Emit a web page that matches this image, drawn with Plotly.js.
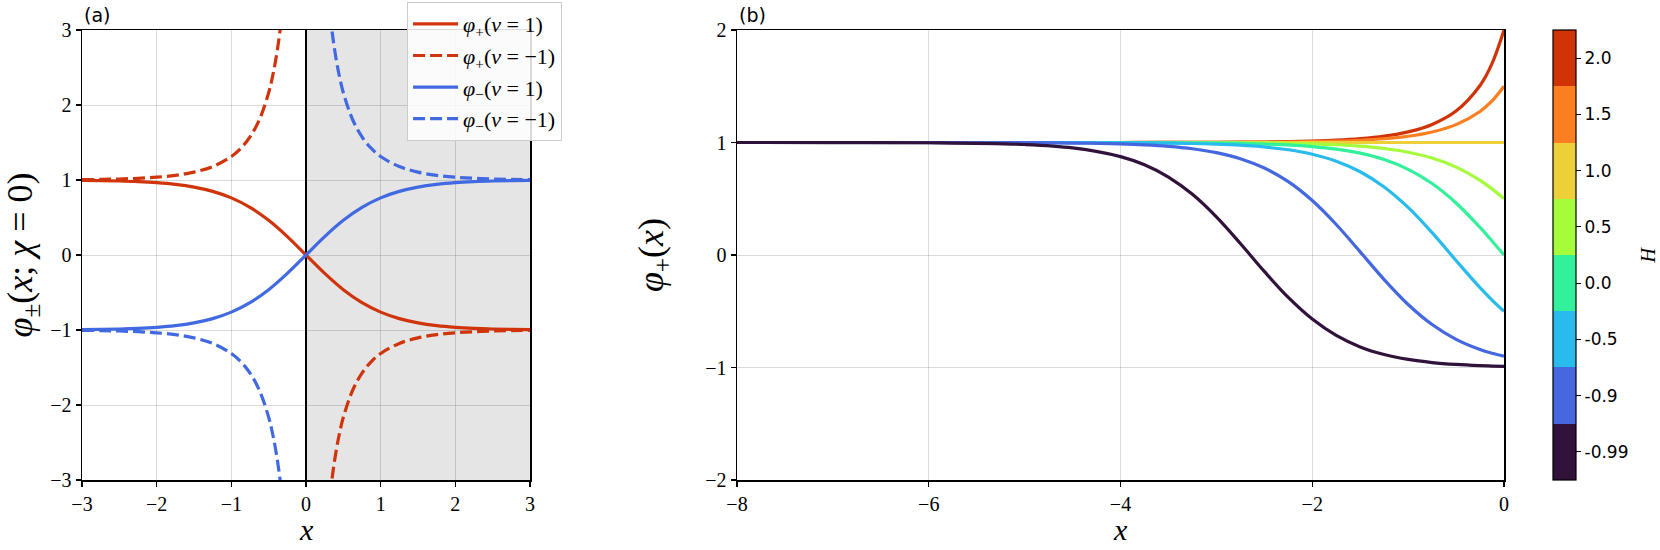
<!DOCTYPE html>
<html>
<head>
<meta charset="utf-8">
<script src="https://cdn.plot.ly/plotly-3.0.1.min.js"></script>
<style>html,body{margin:0;padding:0;background:#fff;}#chart{width:1660px;height:550px;}</style>
</head>
<body>
<div id="chart"></div>
<script>
// ---------- Panel (a) data ----------
const xSolid = [-3,-2.75,-2.5,-2.25,-2,-1.75,-1.5,-1.25,-1,-0.75,-0.5,-0.25,0,0.25,0.5,0.75,1,1.25,1.5,1.75,2,2.25,2.5,2.75,3];
const phiPlusNu1 = [0.9951,0.9919,0.9866,0.9780,0.9640,0.9414,0.9051,0.8483,0.7616,0.6351,0.4621,0.2449,0,-0.2449,-0.4621,-0.6351,-0.7616,-0.8483,-0.9051,-0.9414,-0.9640,-0.9780,-0.9866,-0.9919,-0.9951];
const phiMinusNu1 = [-0.9951,-0.9919,-0.9866,-0.9780,-0.9640,-0.9414,-0.9051,-0.8483,-0.7616,-0.6351,-0.4621,-0.2449,0,0.2449,0.4621,0.6351,0.7616,0.8483,0.9051,0.9414,0.9640,0.9780,0.9866,0.9919,0.9951];
const xDashed = [-3,-2.75,-2.5,-2.25,-2,-1.75,-1.5,-1.25,-1,-0.875,-0.75,-0.625,-0.5,-0.45,-0.4,-0.35,-0.3,null,0.3,0.35,0.4,0.45,0.5,0.625,0.75,0.875,1,1.25,1.5,1.75,2,2.25,2.5,2.75,3];
const phiPlusNuM1 = [1.0050,1.0082,1.0135,1.0225,1.0373,1.0619,1.1048,1.1789,1.3130,1.4207,1.5745,1.8031,2.1640,2.3702,2.6319,2.9729,3.4327,null,-3.4327,-2.9729,-2.6319,-2.3702,-2.1640,-1.8031,-1.5745,-1.4207,-1.3130,-1.1789,-1.1048,-1.0619,-1.0373,-1.0225,-1.0135,-1.0082,-1.0050];
const phiMinusNuM1 = [-1.0050,-1.0082,-1.0135,-1.0225,-1.0373,-1.0619,-1.1048,-1.1789,-1.3130,-1.4207,-1.5745,-1.8031,-2.1640,-2.3702,-2.6319,-2.9729,-3.4327,null,3.4327,2.9729,2.6319,2.3702,2.1640,1.8031,1.5745,1.4207,1.3130,1.1789,1.1048,1.0619,1.0373,1.0225,1.0135,1.0082,1.0050];
const shadedX = [0, 3];
const legendNames = ['<i>φ</i><sub>+</sub>(<i>ν</i> = 1)','<i>φ</i><sub>+</sub>(<i>ν</i> = −1)','<i>φ</i><sub>−</sub>(<i>ν</i> = 1)','<i>φ</i><sub>−</sub>(<i>ν</i> = −1)'];

// ---------- Panel (b) data ----------
const xB = [-8,-7,-6,-5,-4.5,-4,-3.75,-3.5,-3.25,-3,-2.75,-2.5,-2.25,-2,-1.75,-1.5,-1.25,-1,-0.75,-0.5,-0.25,-0.125,0];
const hLabels = ['2.0','1.5','1.0','0.5','0.0','-0.5','-0.9','-0.99'];
const phiH_2p0  = [1,1,1,1.00003,1.00008,1.00022,1.00037,1.00061,1.00100,1.00165,1.00273,1.00451,1.00744,1.01228,1.02035,1.03380,1.05630,1.0946,1.1608,1.2797,1.5072,1.7018,2.0];
const phiH_1p5  = [1,1,1,1.00002,1.00005,1.00013,1.00022,1.00036,1.00060,1.00099,1.00163,1.00270,1.00445,1.00735,1.01214,1.02010,1.03336,1.0556,1.0934,1.1587,1.2759,1.3691,1.5];
const phiH_1p0  = [1,1,1,1,1,1,1,1,1,1,1,1,1,1,1,1,1,1,1,1,1,1,1];
const phiH_0p5  = [1,1,1,0.99997,0.99992,0.99978,0.99963,0.99939,0.99900,0.99835,0.99728,0.99552,0.99262,0.98786,0.98006,0.96732,0.94671,0.9136,0.8615,0.7814,0.6635,0.5876,0.5];
const phiH_0p0  = [1,1,0.99999,0.99991,0.99975,0.99933,0.99889,0.99818,0.99700,0.99505,0.99186,0.98661,0.97803,0.96403,0.94138,0.90515,0.84828,0.76159,0.63515,0.46212,0.24492,0.1244,0];
const phiH_m0p5 = [1,1,0.99996,0.99973,0.99926,0.99799,0.99669,0.99455,0.99102,0.98524,0.97579,0.9604,0.9355,0.8959,0.8340,0.7403,0.6050,0.4227,0.1983,-0.049,-0.2904,-0.4003,-0.5];
const phiH_m0p9 = [1,1,0.99977,0.99828,0.99532,0.98734,0.97921,0.9660,0.9445,0.9101,0.8559,0.7731,0.6516,0.4839,0.2711,0.028,-0.2185,-0.4398,-0.6182,-0.7496,-0.8403,-0.8733,-0.9];
const phiH_m0p99= [1,0.9997,0.9976,0.9821,0.952,0.8748,0.8016,0.6926,0.5392,0.3390,0.1026,-0.1459,-0.3773,-0.5696,-0.7148,-0.8168,-0.8847,-0.9284,-0.956,-0.9731,-0.9836,-0.9872,-0.99];
const hColors = ['#d03306','#fb7e21','#edcf3a','#a4fc3b','#33f19a','#28bbeb','#4568e0','#30123b'];

// ---------- styling ----------
const RED = '#d0340a', BLUE = '#4169e1';
const SERIF = 'Liberation Serif';
const SANS = 'DejaVu Sans';
const DASH = '12px,5px';

const traces = [];
traces.push({x:xSolid, y:phiPlusNu1, mode:'lines', name:legendNames[0], line:{color:RED, width:3.2, shape:'spline'}, xaxis:'x', yaxis:'y'});
traces.push({x:xDashed, y:phiPlusNuM1, mode:'lines', name:legendNames[1], line:{color:RED, width:3.2, dash:DASH, shape:'spline'}, connectgaps:false, xaxis:'x', yaxis:'y'});
traces.push({x:xSolid, y:phiMinusNu1, mode:'lines', name:legendNames[2], line:{color:BLUE, width:3.2, shape:'spline'}, xaxis:'x', yaxis:'y'});
traces.push({x:xDashed, y:phiMinusNuM1, mode:'lines', name:legendNames[3], line:{color:BLUE, width:3.2, dash:DASH, shape:'spline'}, connectgaps:false, xaxis:'x', yaxis:'y'});

const hSeries = [phiH_2p0, phiH_1p5, phiH_1p0, phiH_0p5, phiH_0p0, phiH_m0p5, phiH_m0p9, phiH_m0p99];
hSeries.forEach((ys, i) => {
  traces.push({x:xB, y:ys, mode:'lines', name:'H = '+hLabels[i], showlegend:false,
    line:{color:hColors[i], width:3.2, shape:'spline'}, xaxis:'x2', yaxis:'y2', hoverinfo:'x+y'});
});

// colorbar carrier: endpoints of the H curves, invisible markers
const nB = hLabels.length;
const csc = [];
for (let k = 0; k < nB; k++) {
  const c = hColors[nB-1-k];
  csc.push([k/nB, c]); csc.push([(k+1)/nB, c]);
}
traces.push({
  x: hSeries.map(() => xB[xB.length-1]),
  y: hSeries.map(s => s[s.length-1]),
  mode:'markers', showlegend:false, hoverinfo:'skip', xaxis:'x2', yaxis:'y2',
  marker:{size:1, opacity:0, color: hSeries.map((s,i) => nB-1-i+0.5), cmin:0, cmax:nB, colorscale:csc, showscale:true,
    colorbar:{x:1.0345, xanchor:'left', y:0.5, yanchor:'middle', len:1, lenmode:'fraction', thickness:23,
      xpad:0, ypad:0, outlinewidth:1.2, outlinecolor:'#000',
      tickvals: hLabels.map((l,i)=>i+0.5), ticktext: hLabels.slice().reverse(),
      ticks:'outside', ticklen:5, tickwidth:1, tickcolor:'#000',
      tickfont:{family:SANS, size:17, color:'#000'},
      title:{text:''}}}
});

const axisCommon = {
  showline:true, mirror:true, linecolor:'#000', linewidth:1.5,
  ticks:'outside', ticklen:5, tickwidth:1.2, tickcolor:'#000',
  showgrid:true, gridcolor:'rgba(0,0,0,0.14)', gridwidth:1,
  tickfont:{family:SERIF, size:20, color:'#000'},
  zeroline:false, fixedrange:true
};

const layout = {
  width:1660, height:550,
  margin:{l:82, r:156, t:30, b:70, autoexpand:false},
  paper_bgcolor:'#fff', plot_bgcolor:'rgba(0,0,0,0)',
  showlegend:true,
  legend:{x:0.2286, xanchor:'left', y:1.062, yanchor:'top', bgcolor:'rgba(255,255,255,0.85)',
    bordercolor:'#cccccc', borderwidth:1, itemwidth:45, font:{family:SERIF, size:22, color:'#000'}, tracegroupgap:0},
  xaxis:Object.assign({}, axisCommon, {domain:[0,0.31505], range:[-3,3], tickvals:[-3,-2,-1,0,1,2,3], anchor:'y',
    zeroline:true, zerolinecolor:'#000', zerolinewidth:1.5}),
  yaxis:Object.assign({}, axisCommon, {domain:[0,1], range:[-3,3], tickvals:[-3,-2,-1,0,1,2,3], anchor:'x',
    title:{text:'<i>φ</i><sub>±</sub>(<i>x</i>; <i>χ</i> = 0)', font:{family:SERIF, size:36, color:'#000'}, standoff:10}}),
  xaxis2:Object.assign({}, axisCommon, {domain:[0.46062,1], range:[-8,0], tickvals:[-8,-6,-4,-2,0], anchor:'y2'}),
  yaxis2:Object.assign({}, axisCommon, {domain:[0,1], range:[-2,2], tickvals:[-2,-1,0,1,2], anchor:'x2',
    title:{text:'<i>φ</i><sub>+</sub>(<i>x</i>)', font:{family:SERIF, size:36, color:'#000'}, standoff:30}}),
  shapes:[{type:'rect', xref:'x', yref:'y domain', x0:shadedX[0], x1:shadedX[1], y0:0, y1:1,
    fillcolor:'#e5e5e5', line:{width:0}, layer:'below'}],
  annotations:[
    {text:'<i>x</i>', xref:'x domain', yref:'y domain', x:0.5, y:-0.111, xanchor:'center', yanchor:'middle', showarrow:false,
      font:{family:SERIF, size:30, color:'#000'}},
    {text:'<i>x</i>', xref:'x2 domain', yref:'y2 domain', x:0.5, y:-0.111, xanchor:'center', yanchor:'middle', showarrow:false,
      font:{family:SERIF, size:30, color:'#000'}},
    {text:'(a)', xref:'x domain', yref:'y domain', x:0, y:1, xanchor:'left', yanchor:'bottom', yshift:2, showarrow:false,
      font:{family:SANS, size:19, color:'#000'}},
    {text:'(b)', xref:'x2 domain', yref:'y2 domain', x:0, y:1, xanchor:'left', yanchor:'bottom', yshift:2, showarrow:false,
      font:{family:SANS, size:19, color:'#000'}},
    {text:'<i>H</i>', xref:'paper', yref:'paper', x:1.101, y:0.5, xanchor:'center', yanchor:'middle', textangle:-90,
      showarrow:false, font:{family:SERIF, size:20, color:'#000'}}
  ]
};

Plotly.newPlot('chart', traces, layout, {displayModeBar:false, staticPlot:true});
</script>
</body>
</html>
